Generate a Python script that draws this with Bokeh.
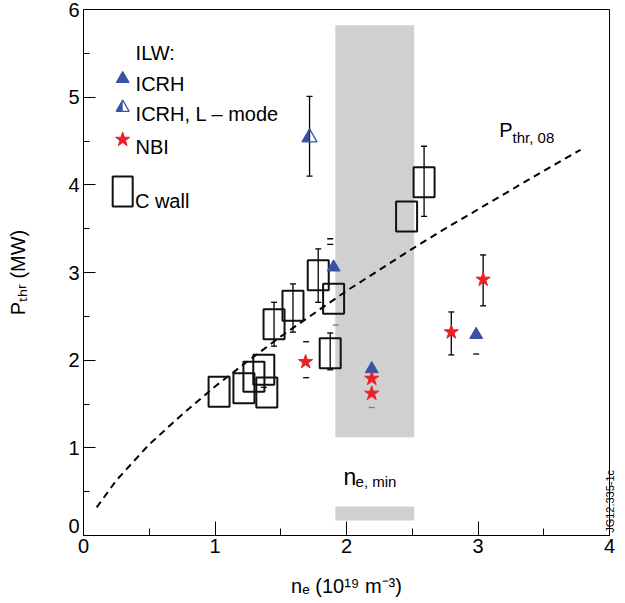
import math
from bokeh.plotting import figure
from bokeh.models import ColumnDataSource, Whisker, TeeHead, Label, FixedTicker, LinearAxis
from bokeh.embed import file_html
from bokeh.resources import INLINE

# ---------------- data ----------------
# C wall (carbon wall) discharges
cwall_x = [1.031, 1.220, 1.296, 1.371, 1.394, 1.449, 1.593, 1.785, 1.902, 1.876, 2.457, 2.590]
cwall_y = [1.64, 1.68, 1.81, 1.89, 1.63, 2.41, 2.62, 2.97, 2.70, 2.08, 3.64, 4.03]
cwall_err_x = [1.449, 1.593, 1.785, 1.876, 2.590]
cwall_err_lo = [2.16, 2.32, 2.66, 1.89, 3.64]
cwall_err_hi = [2.66, 2.87, 3.27, 2.31, 4.44]
cwall_grey_err_x = [2.457]
cwall_grey_err_lo = [3.27]
cwall_grey_err_hi = [4.00]

# ILW ICRH (filled triangles)
icrh_x = [1.902, 2.192, 2.986]
icrh_y = [3.06, 1.90, 2.29]
# ILW ICRH, L-mode (half-filled triangle)
lmode_x = [1.719]
lmode_y = [4.54]
lmode_lo = [4.10]
lmode_hi = [5.01]
# ILW NBI (stars)
nbi_x = [1.689, 2.192, 2.192, 2.797, 3.039]
nbi_y = [1.98, 1.79, 1.62, 2.32, 2.92]
nbi_err_x = [2.797, 3.039]
nbi_err_lo = [2.06, 2.62]
nbi_err_hi = [2.55, 3.20]

# isolated error-bar end caps
caps_x = [1.876, 1.876, 1.693, 1.693, 2.986, 1.371]
caps_y = [3.385, 3.32, 2.21, 1.80, 2.07, 1.69]
grey_caps_x = [1.918, 2.192]
grey_caps_y = [2.40, 1.46]

# P_thr,08 scaling curve
p08_x = [0.10, 0.25, 0.50, 0.75, 1.00, 1.25, 1.50, 1.75, 2.00, 2.25, 2.50, 2.75, 3.00, 3.25, 3.50, 3.78]
p08_y = [0.32, 0.63, 1.04, 1.38, 1.70, 1.99, 2.27, 2.53, 2.79, 3.03, 3.27, 3.50, 3.72, 3.94, 4.16, 4.40]

# n_e,min range (grey band)
nemin_left = 1.915
nemin_right = 2.515
band_bottom = [1.12, 0.17]
band_top = [5.82, 0.33]

x_ticks = [0, 1, 2, 3, 4]
x_minor = [0.5, 1.5, 2.5, 3.5]
y_ticks = [0, 1, 2, 3, 4, 5, 6]
y_minor = [0.5, 1.5, 2.5, 3.5, 4.5, 5.5]
y_tick_labels = ["0", "1", "2", "3", "4", "5", "6"]
x_title = "n\u2091 (10\u00b9\u2079 m\u207b\u00b3)"
y_title = "P\u209c\u2095\u1d63 (MW)"
fig_id = "JG12.335-1c"

# ---------------- styling ----------------
FONT = "Liberation Sans"
BLUE = "#3953a4"
RED = "#ec2127"
GREY = "#d0d0d0"
PX_X = 132.3   # pixels per x unit
PX_Y = 87.6    # pixels per y unit

p = figure(width=625, height=603, x_range=(0, 4), y_range=(0, 6),
           output_backend="svg", toolbar_location=None,
           min_border_left=83, min_border_right=13, min_border_top=9, min_border_bottom=68)
p.grid.visible = False
p.outline_line_color = "black"
p.outline_line_width = 1
p.background_fill_color = "white"
p.border_fill_color = "white"

# x axis (ticks, labels and title)
xa = p.xaxis[0]
xa.ticker = FixedTicker(ticks=x_ticks, minor_ticks=x_minor)
xa.major_tick_out = 0
xa.minor_tick_out = 0
xa.major_tick_in = 14
xa.minor_tick_in = 7
xa.axis_line_color = "black"
xa.major_tick_line_color = "black"
xa.minor_tick_line_color = "black"
xa.major_label_text_font = FONT
xa.major_label_text_font_size = "20px"
xa.major_label_text_color = "black"
xa.major_label_standoff = 3
xa.axis_label = x_title
xa.axis_label_text_font = FONT
xa.axis_label_text_font_size = "20px"
xa.axis_label_text_font_style = "normal"
xa.axis_label_text_color = "black"
xa.axis_label_standoff = 19

# y axis: ticks only (labels on an outer axis so the "0" can sit above the corner)
ya = p.yaxis[0]
ya.ticker = FixedTicker(ticks=y_ticks, minor_ticks=y_minor)
ya.major_tick_out = 0
ya.minor_tick_out = 0
ya.major_tick_in = 12
ya.minor_tick_in = 6
ya.axis_line_color = "black"
ya.major_tick_line_color = "black"
ya.minor_tick_line_color = "black"
ya.major_label_standoff = 0
ya.major_label_overrides = {t: "" for t in y_ticks}

label_pos = [0.11] + y_ticks[1:]
yb = LinearAxis(ticker=FixedTicker(ticks=label_pos, minor_ticks=[]),
                major_label_overrides={pos: txt for pos, txt in zip(label_pos, y_tick_labels)},
                axis_line_color=None, major_tick_line_color=None, minor_tick_line_color=None,
                major_tick_in=0, major_tick_out=0, minor_tick_in=0, minor_tick_out=0,
                major_label_standoff=4, major_label_text_font=FONT,
                major_label_text_font_size="20px", major_label_text_color="black",
                axis_label=y_title, axis_label_text_font=FONT, axis_label_text_font_size="20px",
                axis_label_text_font_style="normal", axis_label_text_color="black",
                axis_label_standoff=36)
p.add_layout(yb, "left")

# figure id on the right edge
jg_pos = 0.03
yr = LinearAxis(ticker=FixedTicker(ticks=[jg_pos], minor_ticks=[]),
                major_label_overrides={jg_pos: fig_id},
                major_label_orientation=math.pi / 2,
                axis_line_color=None, major_tick_line_color=None, minor_tick_line_color=None,
                major_tick_in=0, major_tick_out=0, minor_tick_in=0, minor_tick_out=0,
                major_label_standoff=1, major_label_text_font=FONT,
                major_label_text_font_size="11px", major_label_text_color="black")
p.add_layout(yr, "right")

# grey n_e,min band
p.quad(left=[nemin_left] * 2, right=[nemin_right] * 2, bottom=band_bottom, top=band_top,
       fill_color=GREY, line_color=None)

# scaling curve
p.line(p08_x, p08_y, line_color="black", line_width=2, line_dash="7 5")

# error bars
def whisk(xs, lo, hi, color="black", width=1.3):
    src = ColumnDataSource(dict(x=xs, lo=lo, hi=hi))
    p.add_layout(Whisker(source=src, base="x", lower="lo", upper="hi", dimension="height",
                         line_color=color, line_width=width,
                         lower_head=TeeHead(size=6, line_color=color, line_width=width),
                         upper_head=TeeHead(size=6, line_color=color, line_width=width)))

whisk(cwall_err_x, cwall_err_lo, cwall_err_hi)
whisk(cwall_grey_err_x, cwall_grey_err_lo, cwall_grey_err_hi, color="#7a7a7a")
whisk(lmode_x, lmode_lo, lmode_hi)
whisk(nbi_err_x, nbi_err_lo, nbi_err_hi)
p.scatter(caps_x, caps_y, marker="dash", size=6, line_color="black", line_width=1.3)
p.scatter(grey_caps_x, grey_caps_y, marker="dash", size=6, line_color="#7a7a7a", line_width=1.3)

# C wall boxes
p.rect(cwall_x, cwall_y, width=21, height=30, width_units="screen", height_units="screen",
       fill_alpha=0, line_color="#111111", line_width=2)

# ILW markers
p.scatter(icrh_x, icrh_y, marker="triangle", size=13, fill_color=BLUE, line_color=BLUE)
p.scatter(nbi_x, nbi_y, marker="star", size=15, fill_color=RED, line_color=RED)

def half_tri(cx, cy, size):
    r = size / 2.0
    h = r * math.sqrt(3)
    a = h / 3.0
    xs = [cx - r / PX_X, cx, cx]
    ys = [cy - a / PX_Y, cy - a / PX_Y, cy + (h - a) / PX_Y]
    return xs, ys

hx, hy = [], []
for cx, cy in zip(lmode_x, lmode_y):
    xs, ys = half_tri(cx, cy, 15)
    hx.append(xs); hy.append(ys)
p.patches(hx, hy, fill_color=BLUE, line_color=None)
p.scatter(lmode_x, lmode_y, marker="triangle", size=15, fill_alpha=0, line_color=BLUE, line_width=1.3)

# ---------------- legend (drawn by hand) ----------------
LX = 0.298
p.scatter([LX], [5.21], marker="triangle", size=13, fill_color=BLUE, line_color=BLUE)
xs, ys = half_tri(LX, 4.88, 13)
p.patch(xs, ys, fill_color=BLUE, line_color=None)
p.scatter([LX], [4.88], marker="triangle", size=13, fill_alpha=0, line_color=BLUE, line_width=1.3)
p.scatter([LX], [4.516], marker="star", size=15, fill_color=RED, line_color=RED)
p.rect([LX], [3.924], width=20, height=30, width_units="screen", height_units="screen",
       fill_alpha=0, line_color="#111111", line_width=2)

def lab(text, x, y, size, angle=0.0, align="left", baseline="alphabetic", color="black"):
    p.add_layout(Label(x=x, y=y, text=text, text_font=FONT, text_font_size=f"{size}px",
                       text_color=color, angle=angle, text_align=align, text_baseline=baseline))

lab("ILW:", 0.396, 5.506, 20)
lab("ICRH", 0.396, 5.152, 20)
lab("ICRH, L \u2013  mode", 0.396, 4.809, 20)
lab("NBI", 0.396, 4.436, 20)
lab("C wall", 0.391, 3.82, 20)

# curve label
lab("P", 3.162, 4.627, 20)
lab("thr, 08", 3.263, 4.542, 15)

# n_e,min label
lab("n", 1.978, 0.669, 23)
lab("e, min", 2.069, 0.615, 15)

open("out.html", "w").write(file_html(p, INLINE))
